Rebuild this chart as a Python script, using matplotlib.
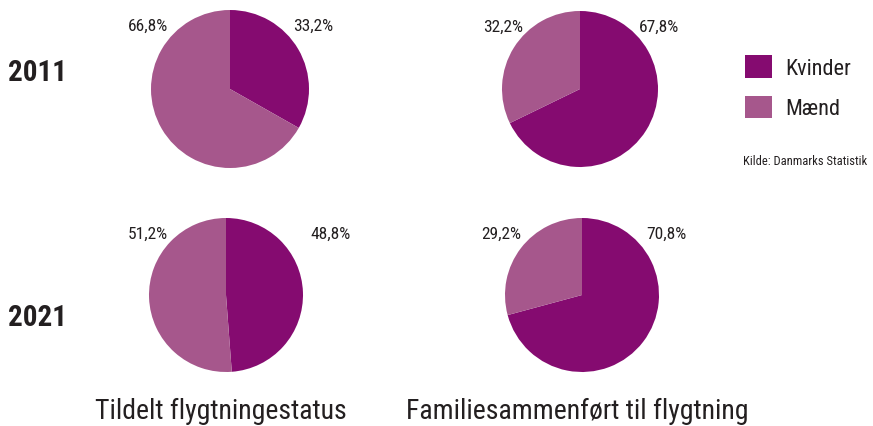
import matplotlib
matplotlib.use("Agg")
import matplotlib.pyplot as plt
from matplotlib.patches import Patch
from matplotlib import font_manager

# data
groups = ["Tildelt flygtningestatus", "Familiesammenført til flygtning"]
years = ["2011", "2021"]
series = ["Kvinder", "Mænd"]
kvinder = [[33.2, 67.8], [48.8, 70.8]]   # per year, per group
maend = [[66.8, 32.2], [51.2, 29.2]]
source = "Kilde: Danmarks Statistik"

colors = ["#850b70", "#a6578c"]
txt = "#231f20"

# pick a condensed font if there is one
names = set(f.name for f in font_manager.fontManager.ttflist)
font = "DejaVu Sans"
for cand in ["Liberation Sans Narrow", "Roboto Condensed", "Open Sans Condensed",
             "DejaVu Sans Condensed", "Noto Sans Condensed"]:
    if cand in names:
        font = cand
        break
plt.rcParams["font.family"] = [font, "DejaVu Sans"]

W, H = 873, 427
fig = plt.figure(figsize=(W / 100, H / 100), dpi=100)

# pie boxes in pixels: center x, center y, radius
boxes = [[(230, 90, 79), (580, 90, 78)],
         [(226, 296, 77), (582, 296, 77)]]
# label offsets (fraction of radius) for left / right labels
lab_off = [[(-0.78, 0.80), (-0.73, 0.75)],
           [(-0.76, 1.10), (-0.79, 0.84)]]

for i, yr in enumerate(years):
    for j, g in enumerate(groups):
        cx, cy, r = boxes[i][j]
        ax = fig.add_axes([(cx - r) / W, (H - cy - r) / H, 2 * r / W, 2 * r / H])
        vals = [kvinder[i][j], maend[i][j]]
        ax.pie(vals, colors=colors, startangle=90, counterclock=False,
               radius=1, wedgeprops=dict(linewidth=0))
        ax.set_xlim(-1, 1)
        ax.set_ylim(-1, 1)
        ax.set_aspect("equal")
        ax.axis("off")
        lo, ro = lab_off[i][j]
        ax.text(ro, 0.80, f"{vals[0]:.1f}%".replace(".", ","), ha="left",
                va="center", fontsize=12.5, color=txt, clip_on=False)
        ax.text(lo, 0.80, f"{vals[1]:.1f}%".replace(".", ","), ha="right",
                va="center", fontsize=12.5, color=txt, clip_on=False)

# year labels
fig.text(8 / W, 1 - 73 / H, years[0], fontsize=21, fontweight="bold",
         color=txt, va="center", ha="left")
fig.text(8 / W, 1 - 318 / H, years[1], fontsize=21, fontweight="bold",
         color=txt, va="center", ha="left")

# group titles
fig.text(221 / W, 1 - 411 / H, groups[0], fontsize=20, color=txt,
         ha="center", va="center")
fig.text(577 / W, 1 - 411 / H, groups[1], fontsize=20, color=txt,
         ha="center", va="center")

handles = [Patch(facecolor=c, edgecolor="none", label=s)
           for c, s in zip(colors, series)]
fig.legend(handles=handles, loc="upper left", bbox_to_anchor=(725 / W, 1 - 36 / H),
           frameon=False, fontsize=16, handlelength=1.2, handleheight=1.2,
           labelspacing=0.75, handletextpad=0.6, labelcolor=txt)

fig.text(743 / W, 1 - 162 / H, source, fontsize=9, color=txt,
         ha="left", va="center")

fig.savefig("out.png", dpi=100)
